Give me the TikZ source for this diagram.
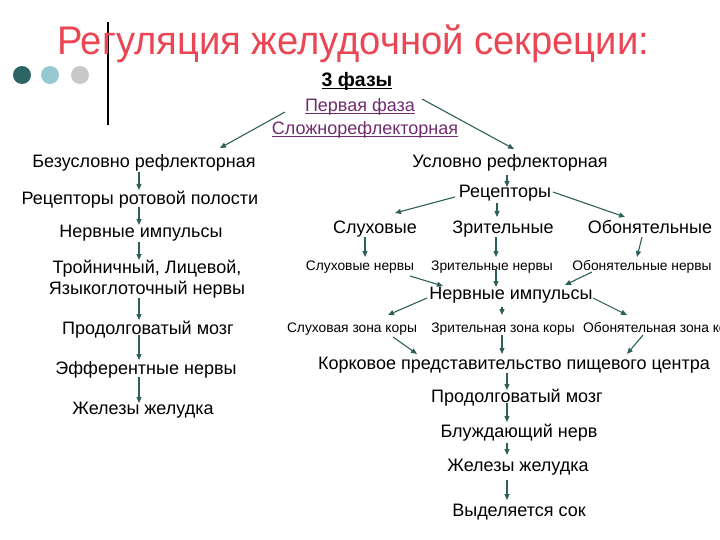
\documentclass[tikz,border=0pt]{standalone}
\usepackage{fontspec}
\setmainfont{Liberation Sans}
\usetikzlibrary{arrows.meta}
\newcommand\myul[1]{\setbox0\hbox{#1}\rlap{\rule[-2.4pt]{\wd0}{1pt}}\box0}
\definecolor{titlered}{RGB}{234,70,84}
\definecolor{phasec}{RGB}{112,44,110}
\definecolor{arrc}{RGB}{47,95,90}
\definecolor{dotA}{RGB}{45,100,100}
\definecolor{dotB}{RGB}{150,200,210}
\definecolor{dotC}{RGB}{200,200,200}
\begin{document}
\begin{tikzpicture}[x=1pt,y=-1pt,
  every node/.style={inner sep=0pt},
  lbl/.style={font=\fontsize{18}{21}\selectfont, text height=13pt, text depth=4pt},
  sml/.style={font=\fontsize{13.8}{16}\selectfont, text height=10pt, text depth=3pt},
  phase/.style={font=\fontsize{18}{21}\selectfont, text=phasec, text height=13pt, text depth=4pt},
  arw/.style={draw=arrc, line width=1.1pt, -{Triangle[length=6pt,width=5pt]}}]
\useasboundingbox (0,0) rectangle (720,540);
% decoration
\fill[dotA] (22,75) circle (9);
\fill[dotB] (50,75) circle (9);
\fill[dotC] (80,75) circle (9);
\draw[line width=2.2pt] (108,22) -- (108,125);
% title
\node[font=\fontsize{40}{44}\selectfont, text=titlered, xscale=0.955, anchor=base] (T) at (353,55) {Регуляция желудочной секреции:};
\node[font=\bfseries\fontsize{19.5}{22}\selectfont, text height=14pt, text depth=4pt] (F3) at (357,82) {\myul{3 фазы}};
\node[phase] (P1) at (360,107) {\myul{Первая фаза}};
\node[phase] (P2) at (365,130) {\myul{Сложнорефлекторная}};
% left column
\node[lbl] (B1) at (144,163) {Безусловно рефлекторная};
\node[lbl] (B2) at (140,200) {Рецепторы ротовой полости};
\node[lbl] (B3) at (141,233) {Нервные импульсы};
\node[lbl, text height={}, text depth={}, align=center] (B4) at (147,279) {Тройничный, Лицевой,\\Языкоглоточный нервы};
\node[lbl] (B5) at (148,330) {Продолговатый мозг};
\node[lbl] (B6) at (146,370) {Эфферентные нервы};
\node[lbl] (B7) at (143,410) {Железы желудка};
% right column
\node[lbl] (R0) at (510,163) {Условно рефлекторная};
\node[lbl] (R1) at (505,193) {Рецепторы};
\node[lbl] (S1) at (375,229) {Слуховые};
\node[lbl] (S2) at (503,229) {Зрительные};
\node[lbl] (S3) at (650,229) {Обонятельные};
\node[sml] (N1) at (360,267) {Слуховые нервы};
\node[sml] (N2) at (492,267) {Зрительные нервы};
\node[sml] (N3) at (642,267) {Обонятельные нервы};
\node[lbl] (I) at (511,295) {Нервные импульсы};
\node[sml] (Z1) at (352,329) {Слуховая зона коры};
\node[sml] (Z2) at (503,329) {Зрительная зона коры};
\node[sml, anchor=west] (Z3) at (583,329) {Обонятельная зона коры};
\node[lbl] (K) at (514,365) {Корковое представительство пищевого центра};
\node[lbl] (M) at (517,398) {Продолговатый мозг};
\node[lbl] (V) at (519,433) {Блуждающий нерв};
\node[lbl] (G) at (518,467) {Железы желудка};
\node[lbl] (O) at (519,512) {Выделяется сок};
% top arrows
\draw[arw] ([shift={(-75,5)}]P1.center) -- ([shift={(76,-15)}]B1.center);
\draw[arw] ([shift={(62,-8)}]P1.center) -- ([shift={(4,-14)}]R0.center);
% left arrows
\draw[arw] ([shift={(-5,9)}]B1.center) -- ([shift={(-1,-10)}]B2.center);
\draw[arw] ([shift={(-1,7)}]B2.center) -- ([shift={(-2,-8)}]B3.center);
\draw[arw] ([shift={(-2,9)}]B3.center) -- ([shift={(-8,-19)}]B4.center);
\draw[arw] ([shift={(-8,19)}]B4.center) -- ([shift={(-9,-10)}]B5.center);
\draw[arw] ([shift={(-9,5)}]B5.center) -- ([shift={(-7,-10)}]B6.center);
\draw[arw] ([shift={(-7,7)}]B6.center) -- ([shift={(-4,-7)}]B7.center);
% right arrows
\draw[arw] ([shift={(-3,12)}]R0.center) -- ([shift={(2,-6)}]R1.center);
\draw[arw] ([shift={(-50,4)}]R1.center) -- ([shift={(20,-16)}]S1.center);
\draw[arw] ([shift={(-8,10)}]R1.center) -- ([shift={(-6,-12)}]S2.center);
\draw[arw] ([shift={(48,-1)}]R1.center) -- ([shift={(-25,-12)}]S3.center);
\draw[arw] ([shift={(-10,8)}]S1.center) -- ([shift={(5,-10)}]N1.center);
\draw[arw] ([shift={(-7,8)}]S2.center) -- ([shift={(4,-10)}]N2.center);
\draw[arw] ([shift={(-8,8)}]S3.center) -- ([shift={(-5,-10)}]N3.center);
\draw[arw] ([shift={(50,9)}]N1.center) -- ([shift={(-68,-9)}]I.center);
\draw[arw] ([shift={(4,3)}]N2.center) -- ([shift={(-15,-8)}]I.center);
\draw[arw] ([shift={(-50,5)}]N3.center) -- ([shift={(54,-10)}]I.center);
\draw[arw] ([shift={(-84,3)}]I.center) -- ([shift={(36,-14)}]Z1.center);
\draw[arw] ([shift={(-9,12)}]I.center) -- ([shift={(-1,-14)}]Z2.center);
\draw[arw] ([shift={(82,3)}]I.center) -- ([shift={(44,-14)}]Z3.west);
\draw[arw] ([shift={(41,8)}]Z1.center) -- ([shift={(-97,-11)}]K.center);
\draw[arw] ([shift={(-1,6)}]Z2.center) -- ([shift={(-12,-11)}]K.center);
\draw[arw] ([shift={(60,6)}]Z3.west) -- ([shift={(113,-11)}]K.center);
\draw[arw] ([shift={(-7,8)}]K.center) -- ([shift={(-10,-8)}]M.center);
\draw[arw] ([shift={(-10,5)}]M.center) -- ([shift={(-12,-11)}]V.center);
\draw[arw] ([shift={(-12,10)}]V.center) -- ([shift={(-11,-12)}]G.center);
\draw[arw] ([shift={(-11,13)}]G.center) -- ([shift={(-12,-12)}]O.center);
\end{tikzpicture}
\end{document}
